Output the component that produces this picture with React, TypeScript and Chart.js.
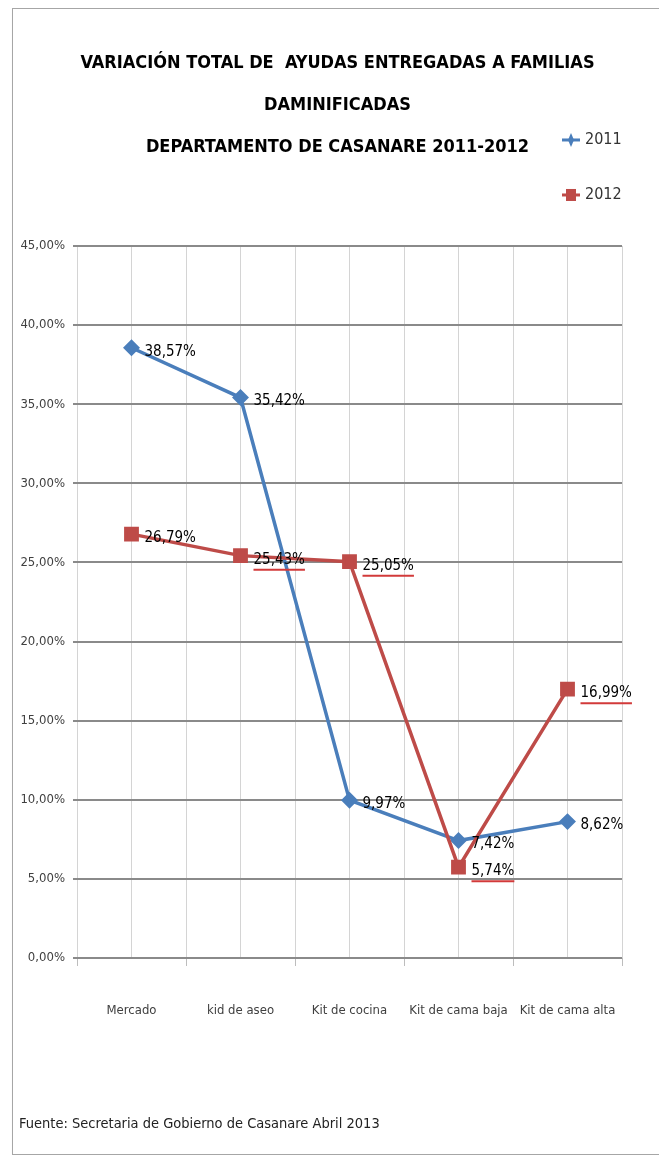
import React, { useEffect, useRef } from 'react';
import { Chart, registerables } from 'chart.js';

Chart.register(...registerables);

const categories = ['Mercado', 'kid de aseo', 'Kit de cocina', 'Kit de cama baja', 'Kit de cama alta'];
const seriesNames = ['2011', '2012'];
const values2011 = [38.57, 35.42, 9.97, 7.42, 8.62];
const values2012 = [26.79, 25.43, 25.05, 5.74, 16.99];
const underlined2011 = [false, false, false, false, false];
const underlined2012 = [false, true, true, true, true];
const titleLines = [
  'VARIACIÓN TOTAL DE  AYUDAS ENTREGADAS A FAMILIAS',
  'DAMINIFICADAS',
  'DEPARTAMENTO DE CASANARE 2011-2012',
];
const sourceNote = 'Fuente: Secretaria de Gobierno de Casanare Abril 2013';
const yMin = 0;
const yMax = 45;
const yStep = 5;

const NARROW = "'Liberation Sans Narrow', 'DejaVu Sans Condensed', 'Arial Narrow', sans-serif";
const BLUE = '#4a7ebb';
const RED = '#be4b48';

const fmtPct = (v: number) => v.toFixed(2).replace('.', ',') + '%';

const valueLabels = {
  id: 'valueLabels',
  afterDatasetsDraw(chart: any) {
    const ctx = chart.ctx;
    ctx.save();
    ctx.font = `15px ${NARROW}`;
    ctx.textBaseline = 'middle';
    ctx.textAlign = 'left';
    chart.data.datasets.forEach((ds: any, di: number) => {
      const meta = chart.getDatasetMeta(di);
      meta.data.forEach((pt: any, i: number) => {
        const txt = fmtPct(ds.data[i].y);
        const x = pt.x + 13;
        const y = pt.y + 4;
        ctx.fillStyle = '#000';
        ctx.fillText(txt, x, y);
        if (ds.underlined && ds.underlined[i]) {
          const w = ctx.measureText(txt).width;
          ctx.strokeStyle = '#d23a3a';
          ctx.lineWidth = 2;
          ctx.beginPath();
          ctx.moveTo(x, y + 10);
          ctx.lineTo(x + w, y + 10);
          ctx.stroke();
        }
      });
    });
    ctx.restore();
  },
};

const sideLegend = {
  id: 'sideLegend',
  afterDraw(chart: any) {
    const ctx = chart.ctx;
    const area = chart.chartArea;
    ctx.save();
    ctx.font = `16px ${NARROW}`;
    ctx.textBaseline = 'middle';
    ctx.textAlign = 'left';
    const x0 = area.right - 60;
    const rows = [area.top - 106, area.top - 51];
    chart.data.datasets.forEach((ds: any, i: number) => {
      const y = rows[i];
      ctx.strokeStyle = ds.borderColor;
      ctx.lineWidth = 3;
      ctx.beginPath();
      ctx.moveTo(x0, y);
      ctx.lineTo(x0 + 18, y);
      ctx.stroke();
      ctx.fillStyle = ds.borderColor;
      const cx = x0 + 9;
      if (ds.pointStyle === 'rect') {
        ctx.fillRect(cx - 5, y - 6, 10, 12);
      } else {
        ctx.beginPath();
        ctx.moveTo(cx, y - 7);
        ctx.lineTo(cx + 3, y);
        ctx.lineTo(cx, y + 7);
        ctx.lineTo(cx - 3, y);
        ctx.closePath();
        ctx.fill();
      }
      ctx.fillStyle = '#333';
      ctx.fillText(ds.label, x0 + 23, y);
    });
    ctx.restore();
  },
};

export default function App() {
  const canvasRef = useRef<HTMLCanvasElement | null>(null);

  useEffect(() => {
    if (!canvasRef.current) return;
    const chart = new Chart(canvasRef.current, {
      type: 'line',
      data: {
        datasets: [
          {
            label: seriesNames[0],
            data: categories.map((_, i) => ({ x: i, y: values2011[i] })),
            underlined: underlined2011,
            borderColor: BLUE,
            backgroundColor: BLUE,
            borderWidth: 3.5,
            pointStyle: 'rectRot',
            pointRadius: 6,
            pointBackgroundColor: BLUE,
            pointBorderColor: BLUE,
            tension: 0,
            order: 1,
          } as any,
          {
            label: seriesNames[1],
            data: categories.map((_, i) => ({ x: i, y: values2012[i] })),
            underlined: underlined2012,
            borderColor: RED,
            backgroundColor: RED,
            borderWidth: 3.5,
            pointStyle: 'rect',
            pointRadius: 8,
            pointBackgroundColor: RED,
            pointBorderColor: RED,
            tension: 0,
            order: 0,
          } as any,
        ],
      },
      options: {
        animation: false,
        responsive: true,
        maintainAspectRatio: false,
        layout: { padding: { left: 6, right: 6, top: 0, bottom: 0 } },
        plugins: {
          legend: { display: false },
          tooltip: { enabled: false },
          title: {
            display: true,
            text: titleLines,
            color: '#000',
            font: { family: NARROW, size: 18, weight: 'bold', lineHeight: 2.333 },
            padding: { top: 33, bottom: 78 },
          },
          subtitle: {
            display: true,
            text: sourceNote,
            position: 'bottom',
            align: 'start',
            color: '#222',
            font: { family: NARROW, size: 14.5, lineHeight: 1.2 },
            padding: { top: 60, bottom: 21 },
          },
        },
        scales: {
          x: {
            type: 'linear',
            min: -0.5,
            max: categories.length - 0.5,
            border: { display: false },
            grid: {
              color: '#d4d4d4',
              lineWidth: 1,
              tickLength: 8,
              tickColor: (c: any) => (c.tick && Number.isInteger(c.tick.value) ? 'rgba(0,0,0,0)' : '#bdbdbd'),
            },
            ticks: {
              stepSize: 0.5,
              autoSkip: false,
              maxRotation: 0,
              minRotation: 0,
              padding: 37,
              color: '#404040',
              font: { family: NARROW, size: 13 },
              callback: (v: any) => (Number.isInteger(v) ? categories[v] : ''),
            },
          },
          y: {
            min: yMin,
            max: yMax,
            border: { display: false },
            afterFit: (scale: any) => {
              scale.width = 58;
            },
            grid: {
              color: '#8a8a8a',
              lineWidth: 2,
              tickLength: 4,
            },
            ticks: {
              stepSize: yStep,
              padding: 8,
              color: '#404040',
              font: { family: NARROW, size: 13 },
              callback: (v: any) => fmtPct(Number(v)),
            },
          },
          rightGap: {
            type: 'linear',
            position: 'right',
            display: true,
            border: { display: false },
            grid: { drawOnChartArea: false, drawTicks: false, display: false },
            ticks: { display: false },
            afterFit: (scale: any) => {
              scale.width = 34;
            },
          },
        },
      } as any,
      plugins: [valueLabels, sideLegend],
    });
    return () => chart.destroy();
  }, []);

  return (
    <div
      style={{
        width: 651,
        height: 1147,
        marginLeft: 4,
        border: '1px solid #a6a6a6',
        boxSizing: 'border-box',
        boxShadow: '2px 2px 3px rgba(0,0,0,0.15)',
        background: '#fff',
      }}
    >
      <div style={{ position: 'relative', width: 649, height: 1145 }}>
        <canvas ref={canvasRef} />
      </div>
    </div>
  );
}
